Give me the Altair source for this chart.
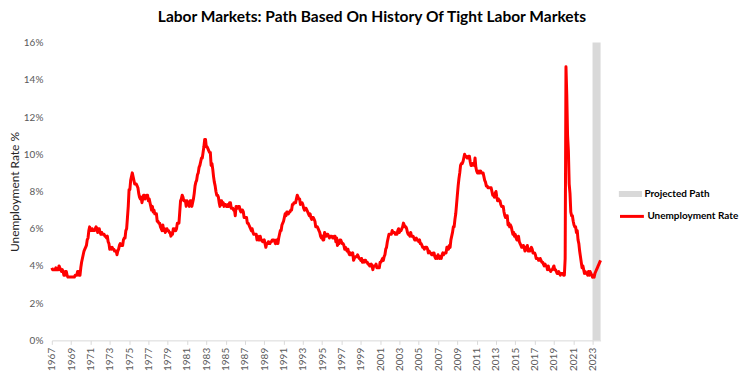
import altair as alt
import pandas as pd

# Monthly unemployment rate (%), Jan 1967 - Nov 2023 (2023 = projected path)
rates_1967_1969 = [
    3.9, 3.8, 3.8, 3.8, 3.8, 3.9, 3.8, 3.8, 3.8, 4.0, 3.9, 3.8,
    3.7, 3.8, 3.7, 3.5, 3.5, 3.7, 3.7, 3.5, 3.4, 3.4, 3.4, 3.4,
    3.4, 3.4, 3.4, 3.4, 3.4, 3.5, 3.5, 3.5, 3.7, 3.7, 3.5, 3.5,
]
rates_1970s = [
    3.9, 4.2, 4.4, 4.6, 4.8, 4.9, 5.0, 5.1, 5.4, 5.5, 5.9, 6.1,
    5.9, 5.9, 6.0, 5.9, 5.9, 5.9, 6.0, 6.1, 6.0, 5.8, 6.0, 6.0,
    5.8, 5.7, 5.8, 5.7, 5.7, 5.7, 5.6, 5.6, 5.5, 5.6, 5.3, 5.2,
    4.9, 5.0, 4.9, 5.0, 4.9, 4.9, 4.8, 4.8, 4.8, 4.6, 4.8, 4.9,
    5.1, 5.2, 5.1, 5.1, 5.1, 5.4, 5.5, 5.5, 5.9, 6.0, 6.6, 7.2,
    8.1, 8.1, 8.6, 8.8, 9.0, 8.8, 8.6, 8.4, 8.4, 8.4, 8.3, 8.2,
    7.9, 7.7, 7.6, 7.7, 7.4, 7.6, 7.8, 7.8, 7.6, 7.7, 7.8, 7.8,
    7.5, 7.6, 7.4, 7.2, 7.0, 7.2, 6.9, 7.0, 6.8, 6.8, 6.8, 6.4,
    6.4, 6.3, 6.3, 6.1, 6.0, 5.9, 6.2, 5.9, 6.0, 5.8, 5.9, 6.0,
    5.9, 5.9, 5.8, 5.8, 5.6, 5.7, 5.7, 6.0, 5.9, 6.0, 5.9, 6.0,
]
rates_1980s = [
    6.3, 6.3, 6.3, 6.9, 7.5, 7.6, 7.8, 7.7, 7.5, 7.5, 7.5, 7.2,
    7.5, 7.4, 7.4, 7.2, 7.5, 7.5, 7.2, 7.4, 7.6, 7.9, 8.3, 8.5,
    8.6, 8.9, 9.0, 9.3, 9.4, 9.6, 9.8, 9.8, 10.1, 10.4, 10.8, 10.8,
    10.4, 10.4, 10.3, 10.2, 10.1, 10.1, 9.4, 9.5, 9.2, 8.8, 8.5, 8.3,
    8.0, 7.8, 7.8, 7.7, 7.4, 7.2, 7.5, 7.5, 7.3, 7.4, 7.2, 7.3,
    7.3, 7.2, 7.2, 7.3, 7.2, 7.4, 7.4, 7.1, 7.1, 7.1, 7.0, 7.0,
    6.7, 7.2, 7.2, 7.1, 7.2, 7.2, 7.0, 6.9, 7.0, 7.0, 6.9, 6.6,
    6.6, 6.6, 6.6, 6.3, 6.3, 6.2, 6.1, 6.0, 5.9, 6.0, 5.8, 5.7,
    5.7, 5.7, 5.7, 5.4, 5.6, 5.4, 5.4, 5.6, 5.4, 5.4, 5.3, 5.3,
    5.4, 5.2, 5.0, 5.2, 5.2, 5.3, 5.2, 5.2, 5.3, 5.3, 5.4, 5.4,
]
rates_1990s = [
    5.4, 5.3, 5.2, 5.4, 5.4, 5.2, 5.5, 5.7, 5.9, 5.9, 6.2, 6.3,
    6.4, 6.6, 6.8, 6.7, 6.9, 6.9, 6.8, 6.9, 6.9, 7.0, 7.0, 7.3,
    7.3, 7.4, 7.4, 7.4, 7.6, 7.8, 7.7, 7.6, 7.6, 7.3, 7.4, 7.4,
    7.3, 7.1, 7.0, 7.1, 7.1, 7.0, 6.9, 6.8, 6.7, 6.8, 6.6, 6.5,
    6.6, 6.6, 6.5, 6.4, 6.1, 6.1, 6.1, 6.0, 5.9, 5.8, 5.6, 5.5,
    5.6, 5.4, 5.4, 5.8, 5.6, 5.6, 5.7, 5.7, 5.6, 5.5, 5.6, 5.6,
    5.6, 5.5, 5.5, 5.6, 5.6, 5.3, 5.5, 5.1, 5.2, 5.2, 5.4, 5.4,
    5.3, 5.2, 5.2, 5.1, 4.9, 5.0, 4.9, 4.8, 4.9, 4.7, 4.6, 4.7,
    4.6, 4.6, 4.7, 4.3, 4.4, 4.5, 4.5, 4.5, 4.6, 4.5, 4.4, 4.4,
    4.3, 4.4, 4.2, 4.3, 4.2, 4.3, 4.3, 4.2, 4.2, 4.1, 4.1, 4.0,
]
rates_2000s = [
    4.0, 4.1, 4.0, 3.8, 4.0, 4.0, 4.0, 4.1, 3.9, 3.9, 3.9, 3.9,
    4.2, 4.2, 4.3, 4.4, 4.3, 4.5, 4.6, 4.9, 5.0, 5.3, 5.5, 5.7,
    5.7, 5.7, 5.7, 5.9, 5.8, 5.8, 5.8, 5.7, 5.7, 5.7, 5.9, 6.0,
    5.8, 5.9, 5.9, 6.0, 6.1, 6.3, 6.2, 6.1, 6.1, 6.0, 5.8, 5.7,
    5.7, 5.6, 5.8, 5.6, 5.6, 5.6, 5.5, 5.4, 5.4, 5.5, 5.4, 5.4,
    5.3, 5.4, 5.2, 5.2, 5.1, 5.0, 5.0, 4.9, 5.0, 5.0, 5.0, 4.9,
    4.7, 4.8, 4.7, 4.7, 4.6, 4.6, 4.7, 4.7, 4.5, 4.4, 4.5, 4.4,
    4.6, 4.5, 4.4, 4.5, 4.4, 4.6, 4.7, 4.6, 4.7, 4.7, 4.7, 5.0,
    5.0, 4.9, 5.1, 5.0, 5.4, 5.6, 5.8, 6.1, 6.1, 6.5, 6.8, 7.3,
    7.8, 8.3, 8.7, 9.0, 9.4, 9.5, 9.5, 9.6, 9.8, 10.0, 9.9, 9.9,
]
rates_2010s = [
    9.8, 9.8, 9.9, 9.9, 9.6, 9.4, 9.4, 9.5, 9.5, 9.4, 9.8, 9.3,
    9.1, 9.0, 9.0, 9.1, 9.0, 9.1, 9.0, 9.0, 9.0, 8.8, 8.6, 8.5,
    8.3, 8.3, 8.2, 8.2, 8.2, 8.2, 8.2, 8.0, 7.8, 7.8, 7.7, 7.9,
    8.0, 7.7, 7.5, 7.6, 7.5, 7.5, 7.3, 7.2, 7.2, 7.2, 6.9, 6.7,
    6.6, 6.7, 6.7, 6.2, 6.3, 6.1, 6.2, 6.1, 5.9, 5.7, 5.8, 5.6,
    5.7, 5.5, 5.4, 5.4, 5.6, 5.3, 5.2, 5.1, 5.0, 5.0, 5.1, 5.0,
    4.8, 4.9, 5.0, 5.1, 4.8, 4.9, 4.8, 4.9, 5.0, 4.9, 4.7, 4.7,
    4.7, 4.6, 4.4, 4.4, 4.4, 4.3, 4.3, 4.4, 4.3, 4.2, 4.2, 4.1,
    4.0, 4.1, 4.0, 4.0, 3.8, 4.0, 3.8, 3.8, 3.7, 3.8, 3.8, 3.9,
    4.0, 3.8, 3.8, 3.7, 3.6, 3.6, 3.7, 3.6, 3.5, 3.6, 3.6, 3.6,
]
rates_2020s = [
    3.5, 3.5, 4.4, 14.7, 13.2, 11.0, 10.2, 8.4, 7.9, 6.9, 6.7, 6.7,
    6.4, 6.2, 6.1, 6.1, 5.8, 5.9, 5.4, 5.2, 4.8, 4.5, 4.2, 3.9,
    4.0, 3.8, 3.6, 3.7, 3.6, 3.6, 3.5, 3.7, 3.5, 3.7, 3.6, 3.5,
    3.4, 3.5, 3.4, 3.6, 3.7, 3.8, 3.9, 4.0, 4.1, 4.2, 4.3,
]

start_year = 1967
projection_start = 2023.0
projection_end = 2023 + 10 / 12
y_ticks = [0, 0.02, 0.04, 0.06, 0.08, 0.10, 0.12, 0.14, 0.16]
x_ticks = list(range(1967, 2024, 2))

all_rates = (rates_1967_1969 + rates_1970s + rates_1980s + rates_1990s
             + rates_2000s + rates_2010s + rates_2020s)
line_df = pd.DataFrame({
    "t": [start_year + i / 12 for i in range(len(all_rates))],
    "rate": [r / 100 for r in all_rates],
    "series": "Unemployment Rate",
})
band_df = pd.DataFrame({
    "x": [projection_start], "x2": [projection_end],
    "y": [0.0], "y2": [0.16], "series": ["Projected Path"],
})

FONT = "Lato"
x_scale = alt.Scale(domain=[start_year, projection_end], nice=False, zero=False)
y_scale = alt.Scale(domain=[0, 0.16], nice=False)

x_axis = alt.Axis(values=x_ticks, format="d", labelAngle=270, title=None,
                  domainColor="#d9d9d9", tickColor="#d9d9d9", tickSize=4,
                  labelPadding=3, labelColor="#595959", labelFontSize=10,
                  labelFont=FONT, grid=False)
y_axis = alt.Axis(values=y_ticks, format=".0%", domain=False, ticks=False,
                  grid=False, labelColor="#595959", labelFontSize=10,
                  labelFont=FONT, labelPadding=9,
                  title="Unemployment Rate %", titleFont=FONT,
                  titleFontSize=12, titleFontWeight="normal",
                  titleColor="#262626", titlePadding=2)

legend_common = dict(title=None, orient="none", legendX=569, padding=0,
                     labelFont=FONT, labelFontSize=10, labelFontWeight="bold",
                     labelColor="#000000", labelOffset=2, labelLimit=200)

band = alt.Chart(band_df).mark_rect().encode(
    x=alt.X("x:Q", scale=x_scale, axis=x_axis),
    x2="x2:Q",
    y=alt.Y("y:Q", scale=y_scale, axis=y_axis),
    y2="y2:Q",
    fill=alt.Fill("series:N", scale=alt.Scale(range=["#d9d9d9"]),
                  legend=alt.Legend(legendY=140,
                                    symbolType="M-1,-0.26H1V0.26H-1Z",
                                    symbolSize=540, symbolStrokeWidth=0,
                                    **legend_common)),
)

line = alt.Chart(line_df).mark_line(strokeWidth=3, strokeJoin="round").encode(
    x=alt.X("t:Q", scale=x_scale, axis=x_axis),
    y=alt.Y("rate:Q", scale=y_scale, axis=y_axis),
    stroke=alt.Stroke("series:N", scale=alt.Scale(range=["#ff0000"]),
                      legend=alt.Legend(legendY=161,
                                        symbolType="stroke", symbolSize=576,
                                        symbolStrokeWidth=3,
                                        **legend_common)),
)

chart = alt.layer(band, line).properties(
    width=551, height=299,
    autosize=alt.AutoSizeParams(type="none"),
    padding={"left": 44, "top": 34, "right": 139, "bottom": 31},
    title=alt.Title("Labor Markets: Path Based On History Of Tight Labor Markets",
                    font=FONT, fontSize=15.6, fontWeight="bold", color="#000000",
                    anchor="middle", offset=12, dx=46),
).configure_view(stroke=None)

chart.save("out.html", embed_options={"renderer": "svg", "actions": False})
